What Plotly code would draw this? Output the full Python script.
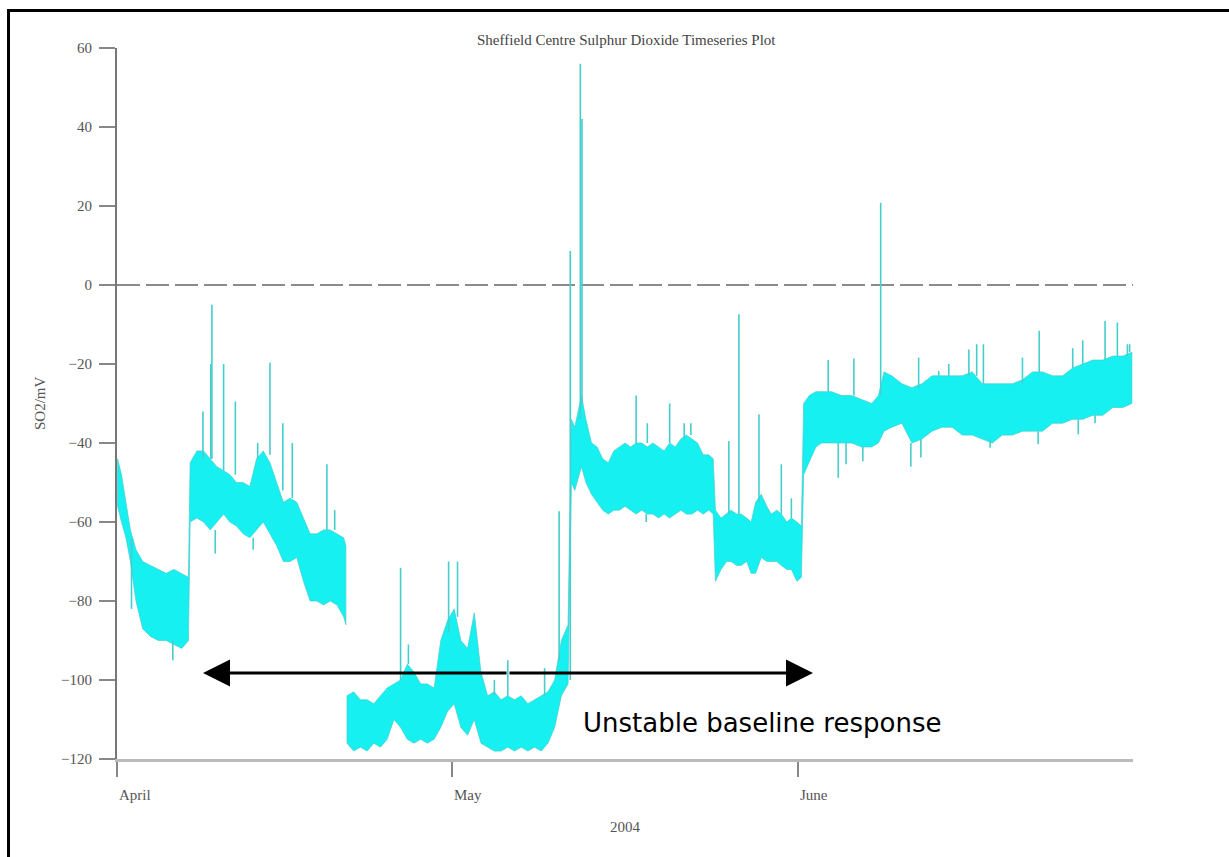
import plotly.graph_objects as go
import pandas as pd

# ---------------- data ----------------
START = pd.Timestamp("2004-04-01")

# time in days after 1 April 2004; None separates a data gap
t_days = [0.05, 0.4, 0.8, 1.2, 1.7, 2.3, 3.0, 3.7, 4.4, 5.1, 5.8, 6.4,
          6.55, 7.15, 7.75, 8.35, 8.95, 9.55, 10.1, 10.7, 11.3, 11.9, 12.5, 13.1, 13.7,
          14.3, 14.9, 15.5, 16.1, 16.7, 17.3, 17.9, 18.5, 19.1, 19.7, 20.3, 20.5,
          None,
          20.6, 21.2, 21.8, 22.4, 23.0, 23.6, 24.2, 24.8, 25.4, 26.0, 26.6, 27.2, 27.8,
          28.4, 29.0, 29.6, 30.2, 30.8, 31.4, 32.0, 32.6, 33.2, 33.8, 34.4, 35.0, 35.6,
          36.2, 36.8, 37.4, 38.0, 38.6, 39.2, 39.8, 40.4,
          40.7, 41.0, 41.6, 42.0, 42.5, 43.0, 43.5, 44.0, 44.5, 45.0, 45.5, 46.0, 46.5,
          47.0, 47.5, 48.0, 48.5, 49.0, 49.5, 50.0, 50.5, 51.0, 51.5, 52.0, 52.5, 53.0, 53.4,
          53.6, 54.1, 54.6, 55.0, 55.5, 55.9, 56.4, 56.8, 57.2, 57.7, 58.2, 58.6, 59.1,
          59.5, 60.0, 60.4, 60.9, 61.3,
          61.5, 62.0, 62.6, 63.1, 64.0, 64.9, 65.8, 66.7, 67.6, 68.2, 68.7, 69.4, 70.3,
          71.2, 72.1, 73.0, 73.9, 74.8, 75.7, 76.6, 77.5, 78.4, 79.3, 80.2, 81.1, 82.0,
          82.9, 83.8, 84.7, 85.6, 86.5, 87.4, 88.3, 89.2, 90.1, 90.9]

# upper edge of the noisy SO2 band (mV)
band_hi = [-44, -48, -55, -62, -67, -70, -71, -72, -73, -72, -73, -74,
           -45, -42, -42, -44, -46, -47, -48, -50, -50, -51, -44, -42, -45,
           -50, -55, -54, -55, -59, -63, -63, -62, -62, -63, -64, -66,
           None,
           -104, -103, -105, -105, -106, -104, -102, -101, -100, -96, -98, -101, -101,
           -102, -90, -85, -82, -90, -92, -83, -98, -104, -103, -105, -104, -105,
           -104, -106, -105, -104, -103, -100, -90, -86,
           -34, -36, -28, -34, -40, -41, -44, -45, -42, -41, -40, -41, -40,
           -40, -41, -40, -41, -42, -40, -41, -39, -38, -39, -40, -43, -43, -44,
           -57, -59, -58, -57, -58, -58, -59, -60, -55, -53, -56, -58, -57,
           -58, -60, -59, -60, -61,
           -30, -28, -27, -27, -27, -28, -28, -29, -30, -28, -22, -23, -25,
           -26, -25, -23, -23, -23, -23, -22, -25, -25, -25, -25, -24, -22,
           -22, -23, -23, -21, -20, -19, -19, -18, -18, -17]

# lower edge of the noisy SO2 band (mV)
band_lo = [-56, -60, -64, -70, -80, -87, -89, -90, -90, -91, -92, -90,
           -60, -59, -60, -62, -60, -58, -60, -61, -63, -64, -62, -60, -63,
           -66, -70, -70, -69, -75, -80, -80, -81, -80, -81, -84, -86,
           None,
           -116, -118, -117, -118, -116, -117, -115, -110, -112, -115, -116, -115, -116,
           -115, -112, -108, -106, -112, -114, -110, -116, -117, -118, -118, -117, -118,
           -117, -118, -117, -118, -116, -112, -104, -101,
           -50, -52, -46, -50, -53, -55, -57, -58, -57, -57, -56, -57, -58,
           -57, -58, -58, -59, -58, -59, -58, -57, -58, -58, -57, -58, -57, -58,
           -75, -72, -70, -70, -71, -71, -70, -73, -73, -69, -70, -70, -70,
           -71, -72, -72, -75, -74,
           -48, -45, -41, -40, -40, -40, -40, -41, -41, -40, -37, -36, -35,
           -40, -39, -37, -36, -36, -38, -38, -39, -40, -38, -38, -37, -37,
           -37, -35, -35, -34, -34, -33, -33, -31, -31, -30]

# isolated spikes: time (days), value where spike leaves the band, spike tip (mV)
spike_t = [1.3, 5.0, 7.7, 8.4, 8.5, 8.8, 9.55, 10.6, 12.2, 12.6, 13.7, 14.85, 15.7,
           18.8, 19.5,
           25.4, 26.1, 29.7, 30.5, 33.8, 35.0, 38.3, 39.6,
           40.6, 41.5, 41.65,
           46.5, 47.4, 47.5, 49.5, 50.8, 51.4,
           54.8, 55.7, 57.5, 59.5, 60.4,
           63.7, 64.6, 65.3, 66.0, 66.8, 68.4, 71.1, 71.8, 72.0, 73.6, 74.5, 76.3,
           77.0, 77.6, 78.2, 81.1, 82.5, 82.6, 85.6, 86.1, 86.5, 87.6, 88.5, 89.6,
           90.5, 90.7]
spike_base = [-64, -90, -44, -44, -44, -62, -47, -48, -64, -44, -43, -52, -54,
              -62, -62,
              -100, -96, -88, -84, -104, -104, -104, -95,
              -100, -34, -30,
              -40, -58, -40, -40, -39, -38,
              -58, -58, -55, -58, -59,
              -27, -40, -40, -28, -41, -28, -40, -26, -39, -23, -23, -23,
              -23, -25, -39, -25, -37, -22, -21, -34, -20, -33, -19, -18,
              -18, -17]
spike_tip = [-82, -95, -32, -20, -5, -68, -20, -29.5, -67, -40, -19.7, -35, -40,
             -45.4, -57,
             -71.6, -91, -70, -70, -100, -95, -97, -57.3,
             8.6, 56, 42,
             -28, -60, -35, -30, -35, -35,
             -39.5, -7.4, -32.7, -45.4, -54,
             -19, -48.8, -45.4, -18.6, -44.6, 20.8, -46, -18.4, -43.7, -21.8, -20, -16.3,
             -15, -15, -41.2, -18.4, -40.3, -11.6, -16, -37.8, -14, -35, -9.1, -9.5,
             -15, -15]

y_ticks = [-120, -100, -80, -60, -40, -20, 0, 20, 40, 60]
month_labels = ["April", "May", "June"]
month_days = [0, 30, 61]

TITLE = "Sheffield Centre Sulphur Dioxide Timeseries Plot"
Y_TITLE = "SO2/mV"
X_TITLE = "2004"
NOTE = "Unstable baseline response"


def day(d):
    return START + pd.Timedelta(days=d)


# ---------------- build band polygons ----------------
segments, cur = [], []
for t, h, l in zip(t_days, band_hi, band_lo):
    if t is None:
        segments.append(cur)
        cur = []
    else:
        cur.append((t, h, l))
segments.append(cur)

poly_x, poly_y = [], []
for seg in segments:
    ts = [s[0] for s in seg]
    hs = [s[1] for s in seg]
    ls = [s[2] for s in seg]
    xs = ts + ts[::-1] + [ts[0]]
    ys = hs + ls[::-1] + [hs[0]]
    poly_x += [day(v) for v in xs] + [None]
    poly_y += ys + [None]

sp_x, sp_y = [], []
for t, b, p in zip(spike_t, spike_base, spike_tip):
    sp_x += [day(t), day(t), None]
    sp_y += [b, p, None]

CYAN = "rgb(22,240,240)"
TEAL = "rgb(70,205,205)"

fig = go.Figure()
fig.add_trace(go.Scatter(x=poly_x, y=poly_y, mode="lines", fill="toself",
                         fillcolor=CYAN, line=dict(color=TEAL, width=0.7),
                         hoverinfo="skip"))
fig.add_trace(go.Scatter(x=sp_x, y=sp_y, mode="lines",
                         line=dict(color=TEAL, width=1.6), hoverinfo="skip"))

# plot area: x 117..1133 px, y 48..759 px
L, R, T, B = 117, 96, 48, 98
W, H = 1229, 857
PW, PH = W - L - R, H - T - B


def px(xp):
    return (xp - L) / PW


def py(yp):
    return (H - B - yp) / PH


SERIF = "Liberation Serif"
GREY = "#555555"
FS = 15

fig.update_layout(
    width=W, height=H,
    margin=dict(l=L, r=R, t=T, b=B),
    paper_bgcolor="white", plot_bgcolor="white",
    showlegend=False,
)
fig.update_xaxes(
    type="date", range=[day(0), day(91)],
    tickvals=[day(d) for d in month_days], showticklabels=False,
    ticks="outside", ticklen=15, tickwidth=1.5, tickcolor="#888888",
    showline=True, linecolor="#bbbbbb", linewidth=3,
    showgrid=False, zeroline=False,
)
fig.update_yaxes(
    range=[-120, 60], tickvals=y_ticks,
    ticks="outside", ticklen=16, tickwidth=1.5, tickcolor="#888888",
    showline=True, linecolor="#777777", linewidth=2,
    showgrid=False, zeroline=False,
    tickfont=dict(family=SERIF, size=FS, color=GREY),
    ticklabelstandoff=4,
)

shapes = [
    dict(type="line", xref="x", yref="y", x0=day(0), x1=day(91), y0=0, y1=0,
         line=dict(color="#666666", width=1.5, dash="23px,6px"), layer="below"),
    dict(type="rect", xref="paper", yref="paper",
         x0=px(8.5), x1=px(1232), y0=py(860), y1=py(10.5),
         line=dict(color="black", width=3), fillcolor="rgba(0,0,0,0)"),
]
fig.update_layout(shapes=shapes)

ann = []
for lab, d in zip(month_labels, month_days):
    ann.append(dict(x=day(d), y=py(795), xref="x", yref="paper", text=lab,
                    showarrow=False, xanchor="left", yanchor="middle",
                    font=dict(family=SERIF, size=FS, color=GREY)))
ann.append(dict(x=0.5, y=py(827), xref="paper", yref="paper", text=X_TITLE,
                showarrow=False, xanchor="center", yanchor="middle",
                font=dict(family=SERIF, size=FS, color=GREY)))
ann.append(dict(x=px(40), y=py(403), xref="paper", yref="paper", text=Y_TITLE,
                showarrow=False, textangle=-90, xanchor="center", yanchor="middle",
                font=dict(family=SERIF, size=FS, color=GREY)))
ann.append(dict(x=px(626), y=py(40), xref="paper", yref="paper", text=TITLE,
                showarrow=False, xanchor="center", yanchor="middle",
                font=dict(family=SERIF, size=15, color="#444444")))
# double-headed arrow
for xh, axp in [(203, 305), (813, -305)]:
    ann.append(dict(x=px(xh), y=py(673), xref="paper", yref="paper", text="",
                    showarrow=True, arrowhead=2, arrowsize=1.8, arrowwidth=3,
                    arrowcolor="black", ax=axp, ay=0, standoff=0))
ann.append(dict(x=px(568), y=py(693), xref="paper", yref="paper", text=NOTE,
                showarrow=False, xanchor="left", yanchor="top",
                bgcolor="white", borderpad=14,
                font=dict(family="DejaVu Sans", size=26, color="black")))
fig.update_layout(annotations=ann)

fig.write_html("out.html")
